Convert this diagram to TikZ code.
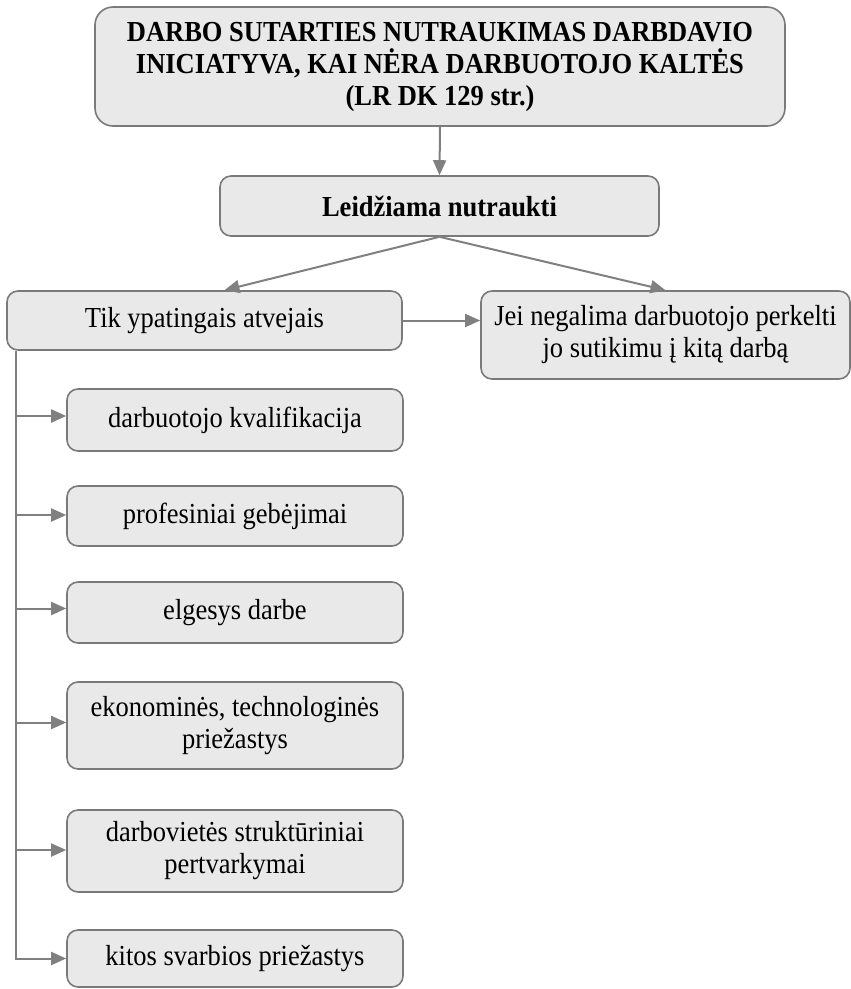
\documentclass[tikz,border=0pt]{standalone}
\usepackage{fontspec}
\setmainfont{Liberation Serif}[FakeStretch=0.914]
\usetikzlibrary{arrows.meta}
\definecolor{boxfill}{RGB}{233,233,233}
\definecolor{boxline}{RGB}{122,122,122}
\definecolor{arrowgray}{RGB}{128,128,128}

\begin{document}
\begin{tikzpicture}[x=1pt,y=-1pt,
  box/.style={draw=boxline, fill=boxfill, line width=1.6pt, rounded corners=11pt,
    inner sep=0pt, align=center, font=\fontsize{29}{32}\selectfont},
  bigbox/.style={box, rounded corners=18pt, font=\bfseries\fontsize{29}{32}\selectfont},
  leftbox/.style={box, minimum width=336pt},
  conn/.style={draw=arrowgray, line width=2pt, -{Triangle[length=15pt,width=13pt]}},
]
\useasboundingbox (0,0) rectangle (851,989);

% heading and first split
\node[bigbox, minimum width=690pt, minimum height=119pt] (top) at (440,66.5)
  {DARBO SUTARTIES NUTRAUKIMAS DARBDAVIO\\INICIATYVA, KAI NĖRA DARBUOTOJO KALTĖS\\(LR DK 129 str.)};
\node[bigbox, rounded corners=11pt, minimum width=439pt, minimum height=60pt] (leid) at (439.5,206)
  {Leidžiama nutraukti};
\node[box, minimum width=395pt, minimum height=59pt] (tik) at (204.5,320.5)
  {Tik ypatingais atvejais};
\node[box, minimum width=369pt, minimum height=88pt] (jei) at (665.5,335)
  {Jei negalima darbuotojo perkelti\\jo sutikimu į kitą darbą};

% list of grounds
\node[leftbox, minimum height=62pt] (b1) at (235,420) {darbuotojo kvalifikacija};
\node[leftbox, minimum height=60pt] (b2) at (235,516) {profesiniai gebėjimai};
\node[leftbox, minimum height=61pt] (b3) at (235,612.5) {elgesys darbe};
\node[leftbox, minimum height=87pt] (b4) at (235,725.5) {ekonominės, technologinės\\priežastys};
\node[leftbox, minimum height=82pt] (b5) at (235,851) {darbovietės struktūriniai\\pertvarkymai};
\node[leftbox, minimum height=57pt] (b6) at (235,958.5) {kitos svarbios priežastys};

% connectors
\draw[conn] (top.south) -- (leid.north);
\draw[conn] (leid.south) -- ([xshift=20pt]tik.north);
\draw[conn] (leid.south) -- (jei.north);
\draw[conn] (tik.east) -- (tik.east -| jei.west);

\coordinate (trunk) at ([xshift=10pt]tik.south west);
\draw[conn] (trunk) |- (b6.west);
\foreach \b/\dy in {b1/4, b2/1, b3/4, b4/3, b5/1} {
  \coordinate (entry) at ([yshift=\dy pt]\b.west);
  \draw[conn] (trunk |- entry) -- (entry);
}
\end{tikzpicture}
\end{document}
